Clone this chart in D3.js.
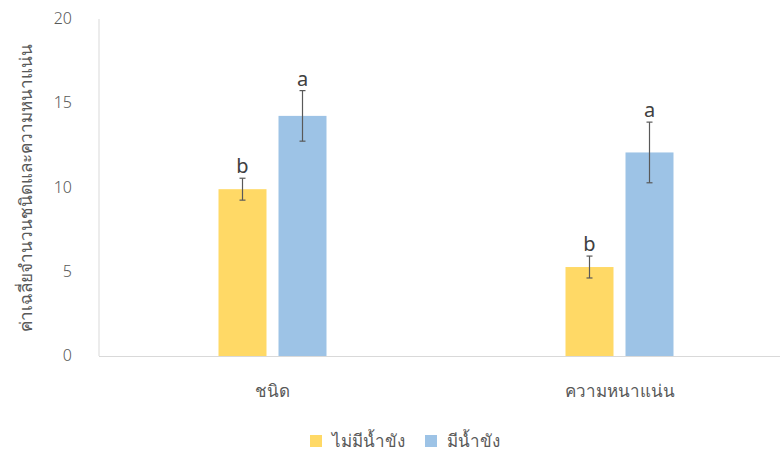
<!DOCTYPE html>
<html lang="th">
<head>
    <meta charset="UTF-8">
    <script src="https://cdn.jsdelivr.net/npm/d3@7"></script>
    <style>
        body { margin: 0; background: #fff; }
        text { font-family: "Noto Sans", "DejaVu Sans", sans-serif; fill: #595959; }
    </style>
</head>
<body>
<div id="chart"></div>
<script>
    // data
    const categories = ["ชนิด", "ความหนาแน่น"];
    const seriesNames = ["ไม่มีน้ำขัง", "มีน้ำขัง"];
    const noWater = [9.9, 5.28];
    const withWater = [14.25, 12.08];
    const noWaterErr = [0.65, 0.65];
    const withWaterErr = [1.5, 1.8];
    const noWaterLetter = ["b", "b"];
    const withWaterLetter = ["a", "a"];
    const yTicks = [0, 5, 10, 15, 20];
    const colors = ["#FFD966", "#9DC3E6"];

    const W = 782, H = 455;
    const svg = d3.select("#chart").append("svg")
        .attr("width", W).attr("height", H);

    const y = d3.scaleLinear().domain([0, 20]).range([356, 19]);
    const x0 = d3.scaleBand().domain(categories).range([99, 793]);
    const x1 = d3.scaleBand().domain(seriesNames).range([-54, 54]).paddingInner(0.2);

    // left axis line and base line
    svg.append("line")
        .attr("x1", 99).attr("x2", 99).attr("y1", 19).attr("y2", 356)
        .attr("stroke", "#d9d9d9");
    svg.append("line")
        .attr("x1", 99).attr("x2", 780).attr("y1", 356.5).attr("y2", 356.5)
        .attr("stroke", "#d9d9d9");

    svg.selectAll("text.ytick")
        .data(yTicks)
        .enter().append("text")
        .attr("class", "ytick")
        .attr("x", 72)
        .attr("y", d => y(d) + 5)
        .style("text-anchor", "end")
        .style("font-size", "16px")
        .style("font-weight", 300)
        .text(d => d);

    svg.append("text")
        .attr("transform", "translate(32," + ((19 + 356) / 2) + ") rotate(-90)")
        .style("text-anchor", "middle")
        .style("font-size", "17px")
        .text("ค่าเฉลี่ยจำนวนชนิดและความหนาแน่น");

    const rows = [];
    categories.forEach(function (c, i) {
        rows.push({cat: c, s: seriesNames[0], v: noWater[i], e: noWaterErr[i], l: noWaterLetter[i], col: colors[0]});
        rows.push({cat: c, s: seriesNames[1], v: withWater[i], e: withWaterErr[i], l: withWaterLetter[i], col: colors[1]});
    });
    const cx = d => x0(d.cat) + x0.bandwidth() / 2 + x1(d.s);
    const mid = d => cx(d) + x1.bandwidth() / 2;

    svg.selectAll("rect.bar")
        .data(rows)
        .enter().append("rect")
        .attr("class", "bar")
        .attr("x", d => cx(d))
        .attr("width", x1.bandwidth())
        .attr("y", d => y(d.v))
        .attr("height", d => y(0) - y(d.v))
        .attr("fill", d => d.col);

    // error bars
    const eb = svg.selectAll("g.err").data(rows).enter().append("g")
        .attr("class", "err")
        .attr("stroke", "#595959").attr("stroke-width", 1.2);
    eb.append("line")
        .attr("x1", mid).attr("x2", mid)
        .attr("y1", d => y(d.v + d.e)).attr("y2", d => y(d.v - d.e));
    eb.append("line")
        .attr("x1", d => mid(d) - 3).attr("x2", d => mid(d) + 3)
        .attr("y1", d => y(d.v + d.e)).attr("y2", d => y(d.v + d.e));
    eb.append("line")
        .attr("x1", d => mid(d) - 3).attr("x2", d => mid(d) + 3)
        .attr("y1", d => y(d.v - d.e)).attr("y2", d => y(d.v - d.e));

    svg.selectAll("text.letter")
        .data(rows)
        .enter().append("text")
        .attr("class", "letter")
        .attr("x", mid)
        .attr("y", d => y(d.v + d.e) - 5)
        .style("text-anchor", "middle")
        .style("font-size", "20px")
        .style("fill", "#404040")
        .text(d => d.l);

    svg.selectAll("text.cat")
        .data(categories)
        .enter().append("text")
        .attr("class", "cat")
        .attr("x", d => x0(d) + x0.bandwidth() / 2)
        .attr("y", 397)
        .style("text-anchor", "middle")
        .style("font-size", "17px")
        .text(d => d);

    // legend
    const legX = [310, 425];
    const lg = svg.selectAll("g.leg").data(seriesNames).enter().append("g")
        .attr("class", "leg")
        .attr("transform", (d, i) => "translate(" + legX[i] + ",435)");
    lg.append("rect").attr("width", 12).attr("height", 12).attr("fill", (d, i) => colors[i]);
    lg.append("text").attr("x", 22).attr("y", 12)
        .style("font-size", "17px")
        .text(d => d);
</script>
</body>
</html>
